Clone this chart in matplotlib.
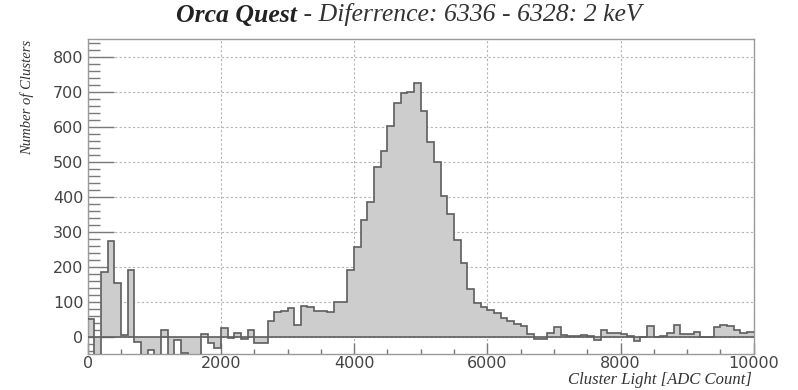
import numpy as np
import matplotlib
matplotlib.use("Agg")
import matplotlib.pyplot as plt
from matplotlib.ticker import MultipleLocator

# histogram: 100 bins of 100 ADC counts from 0 to 10000
bin_edges = np.arange(0, 10001, 100)
counts = [
    50, -60, 186, 274, 154, 5, 190, -14, -60, -37,
    -60, 19, -60, -8, -45, -60, -55, 7, -18, -33,
    26, -2, 10, -5, 19, -17, -17, 45, 70, 73,
    81, 35, 88, 84, 74, 73, 71, 100, 100, 190,
    257, 334, 385, 486, 532, 602, 667, 696, 700, 724,
    644, 556, 500, 401, 352, 276, 210, 138, 96, 84,
    77, 67, 53, 44, 36, 30, 7, -5, -5, 12,
    29, 6, 2, 3, 5, 2, -10, 19, 10, 12,
    8, 2, -12, 0, 31, 0, 2, 10, 33, 8,
    8, 14, 0, 0, 29, 33, 30, 19, 10, 14,
]

title_bold = "Orca Quest"
title_rest = " - Diferrence: 6336 - 6328: 2 keV"
x_title = "Cluster Light [ADC Count]"
y_title = "Number of Clusters"

serif = ["Liberation Serif", "DejaVu Serif"]
axis_grey = "#7a7a7a"
text_grey = "#444444"

fig = plt.figure(figsize=(7.98, 3.90), dpi=100)
ax = fig.add_axes([87.7 / 798, 1 - 354.3 / 390, 666 / 798, 315 / 390])

ax.stairs(counts, bin_edges, baseline=0, fill=True, color="#cdcdcd", lw=0, zorder=2)
ax.stairs(counts, bin_edges, baseline=None, color="#5e5e5e", lw=1.2, zorder=3)
ax.axhline(0, color="#5e5e5e", lw=1.2, zorder=3)

ax.set_xlim(0, 10000)
ax.set_ylim(-50, 850)

ax.xaxis.set_major_locator(MultipleLocator(2000))
ax.xaxis.set_minor_locator(MultipleLocator(500))
ax.yaxis.set_major_locator(MultipleLocator(100))
ax.yaxis.set_minor_locator(MultipleLocator(20))

ax.grid(True, which="major", color="#b5b5b5", lw=0.8, ls=(0, (2, 2)), zorder=1)
ax.set_axisbelow(True)

ax.tick_params(axis="x", which="major", direction="in", length=8, width=1,
               color=axis_grey, labelsize=11.5, labelcolor=text_grey, pad=1.5)
ax.tick_params(axis="x", which="minor", direction="in", length=3.6, width=1,
               color=axis_grey)
ax.tick_params(axis="y", which="major", direction="in", length=18.5, width=1,
               color=axis_grey, labelsize=11.5, labelcolor=text_grey, pad=3)
ax.tick_params(axis="y", which="minor", direction="in", length=8.5, width=1,
               color=axis_grey)

for side in ax.spines.values():
    side.set_color("#9a9a9a")
    side.set_linewidth(1.0)

fig.text(297 / 798, 1 - 15 / 390, title_bold, family=serif, weight="bold",
         style="italic", fontsize=18.5, color="#222222", ha="right", va="center")
fig.text(297 / 798, 1 - 15 / 390, title_rest, family=serif,
         style="italic", fontsize=18.5, color="#333333", ha="left", va="center")

fig.text(27 / 798, 1 - 40 / 390, y_title, family=serif, style="italic",
         fontsize=10.5, color="#333333", rotation=90, ha="center", va="top")
fig.text(752 / 798, 1 - 380.5 / 390, x_title, family=serif, style="italic",
         fontsize=12, color="#333333", ha="right", va="center")

fig.savefig("out.png", dpi=100)
